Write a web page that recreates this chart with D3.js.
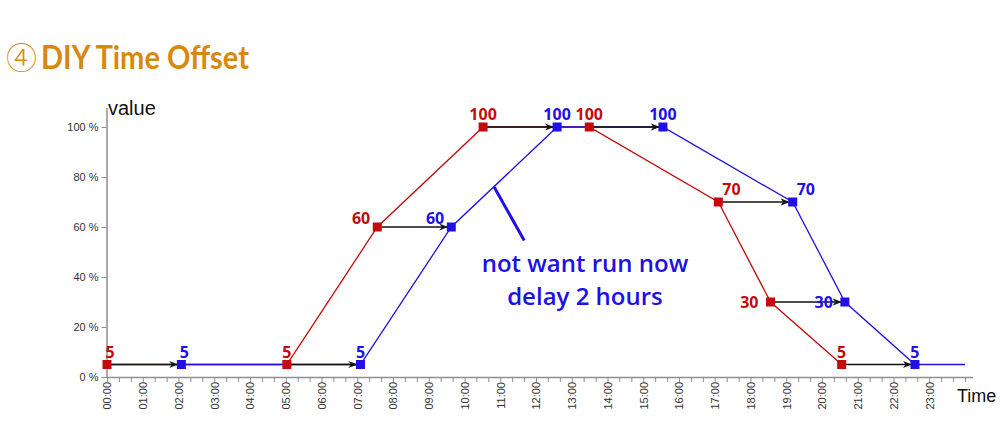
<!DOCTYPE html>
<html><head><meta charset="utf-8">
<script src="https://cdn.jsdelivr.net/npm/d3@7/dist/d3.min.js"></script>
<style>
html,body{margin:0;padding:0;background:#fff;}
svg{display:block;}
</style></head>
<body>
<svg id="chart" width="1000" height="440"></svg>
<script>
// ---- data ----
const values = [5, 5, 60, 100, 100, 70, 30, 5];
const originalHours = [0, 5.03, 7.56, 10.52, 13.49, 17.1, 18.56, 20.55];   // red (original schedule)
const delayedHours  = [2.08, 7.09, 9.63, 12.59, 15.55, 19.18, 20.64, 22.6]; // blue (delayed 2 hours)
const lineEndHour = 24;
const yTicks = [0, 20, 40, 60, 80, 100];
const xTickLabels = ["00:00","01:00","02:00","03:00","04:00","05:00","06:00","07:00","08:00","09:00","10:00","11:00",
                     "12:00","13:00","14:00","15:00","16:00","17:00","18:00","19:00","20:00","21:00","22:00","23:00"];
const labelPlacement = ["top","top","left","top","top","topRight","leftMid","top"];
const titleMark = "④";
const titleText = "DIY Time Offset";
const noteLines = ["not want run now", "delay 2 hours"];

// ---- setup ----
const RED = "#c40a0a", BLUE = "#2010e6", AXIS = "#8e8e8e", ORANGE = "#d7890f";
const svg = d3.select("#chart");
const x = d3.scaleLinear().domain([0, 24]).range([107, 965]);
const y = d3.scaleLinear().domain([0, 100]).range([377, 127]);

// title
const title = svg.append("text").attr("x", 6).attr("y", 69).attr("fill", ORANGE);
title.append("tspan").attr("font-family", "'Noto Sans CJK SC', 'DejaVu Sans', sans-serif")
  .attr("font-size", 31).attr("font-weight", 300).text(titleMark);
title.append("tspan").attr("x", 41).attr("font-family", "Lato, 'Open Sans', sans-serif")
  .attr("font-size", 32).attr("font-weight", 700)
  .attr("textLength", 208).attr("lengthAdjust", "spacingAndGlyphs").text(titleText);

// x axis
const xAxis = d3.axisBottom(x)
  .tickValues(d3.range(0, 24 + 1e-9, 1/3))
  .tickSize(5).tickFormat("");
const gx = svg.append("g").attr("transform", `translate(0,${y(0)})`).call(xAxis);
gx.select(".domain").attr("d", `M${x(0)-0.5},0.5H973`).attr("stroke", AXIS).attr("stroke-width", 1.5);
gx.selectAll(".tick line").attr("stroke", AXIS);
svg.append("g").selectAll("text").data(xTickLabels).join("text")
  .attr("transform", (d, i) => `translate(${x(i)+0.5},382) rotate(-90)`)
  .attr("text-anchor", "end").attr("dy", "0.35em")
  .attr("font-family", "'Liberation Sans', Arial, sans-serif").attr("font-size", 11).attr("fill", "#333")
  .text(d => d);

// y axis
const yAxis = d3.axisLeft(y).tickValues(yTicks).tickSize(5).tickPadding(3).tickFormat(d => d + " %");
const gy = svg.append("g").attr("transform", `translate(${x(0)-0.5},0)`).call(yAxis);
gy.select(".domain").attr("d", "M0.5,108V" + (y(0)+0.5)).attr("stroke", AXIS).attr("stroke-width", 1.5);
gy.selectAll(".tick line").attr("stroke", AXIS);
gy.selectAll(".tick text").attr("font-family", "'Liberation Sans', Arial, sans-serif").attr("font-size", 11).attr("fill", "#333");

svg.append("text").attr("x", 108).attr("y", 115)
  .attr("font-family", "'Liberation Sans', Arial, sans-serif").attr("font-size", 20).attr("fill", "#111").text("value");
svg.append("text").attr("x", 957).attr("y", 402)
  .attr("font-family", "'Liberation Sans', Arial, sans-serif").attr("font-size", 18).attr("fill", "#111").text("Time");

// series
const red = originalHours.map((h, i) => ({h, v: values[i], i}));
const blue = delayedHours.map((h, i) => ({h, v: values[i], i}));
const line = d3.line().x(d => x(d.h)).y(d => y(d.v));

svg.append("path").datum(red).attr("d", line).attr("fill", "none").attr("stroke", RED).attr("stroke-width", 1.3);
svg.append("path").datum(blue.concat([{h: lineEndHour, v: values[values.length-1]}])).attr("d", line)
  .attr("fill", "none").attr("stroke", BLUE).attr("stroke-width", 1.3);

// arrows
const defs = svg.append("defs");
defs.append("marker").attr("id", "arr").attr("viewBox", "0 0 10 10").attr("refX", 9).attr("refY", 5)
  .attr("markerWidth", 9).attr("markerHeight", 9).attr("markerUnits", "userSpaceOnUse").attr("orient", "auto")
  .append("path").attr("d", "M0,1 L10,5 L0,9 L3,5 Z").attr("fill", "#111");
svg.append("g").selectAll("line").data(red).join("line")
  .attr("x1", d => x(d.h) + 4).attr("x2", (d, i) => x(blue[i].h) - 4)
  .attr("y1", d => y(d.v)).attr("y2", d => y(d.v))
  .attr("stroke", "#111").attr("stroke-width", 1.6).attr("marker-end", "url(#arr)");

// markers
const S = 9;
svg.append("g").selectAll("rect").data(red).join("rect")
  .attr("x", d => x(d.h) - S/2).attr("y", d => y(d.v) - S/2).attr("width", S).attr("height", S).attr("fill", RED);
svg.append("g").selectAll("rect").data(blue).join("rect")
  .attr("x", d => x(d.h) - S/2).attr("y", d => y(d.v) - S/2).attr("width", S).attr("height", S).attr("fill", BLUE);

// labels
function placeLabels(data, color) {
  svg.append("g").selectAll("text").data(data).join("text")
    .attr("font-family", "'Noto Sans', sans-serif").attr("font-weight", 700).attr("font-size", 16)
    .attr("fill", color)
    .each(function(d) {
      const p = labelPlacement[d.i], px = x(d.h), py = y(d.v), t = d3.select(this);
      if (p === "top") t.attr("x", px + (d.i === 0 ? 3 : 0)).attr("y", py - 7).attr("text-anchor", "middle");
      else if (p === "left") t.attr("x", px - 7).attr("y", py - 3).attr("text-anchor", "end");
      else if (p === "topRight") t.attr("x", px + 4).attr("y", py - 7).attr("text-anchor", "start");
      else t.attr("x", px - 12).attr("y", py + 6).attr("text-anchor", "end");
    })
    .text(d => d.v);
}
placeLabels(red, RED);
placeLabels(blue, BLUE);

// annotation
const notePointer = {from: [10.83, 76], to: [11.67, 54.6]};
svg.append("line")
  .attr("x1", x(notePointer.from[0])).attr("y1", y(notePointer.from[1]))
  .attr("x2", x(notePointer.to[0])).attr("y2", y(notePointer.to[1]))
  .attr("stroke", BLUE).attr("stroke-width", 3);
const noteBaselines = [42, 28.8];
svg.append("g").selectAll("text").data(noteLines).join("text")
  .attr("x", x(13.37)).attr("y", (d, i) => y(noteBaselines[i]))
  .attr("text-anchor", "middle").attr("font-family", "'Open Sans', sans-serif").attr("font-size", 24)
  .attr("font-weight", 600).attr("fill", BLUE).text(d => d);
</script>
</body></html>
